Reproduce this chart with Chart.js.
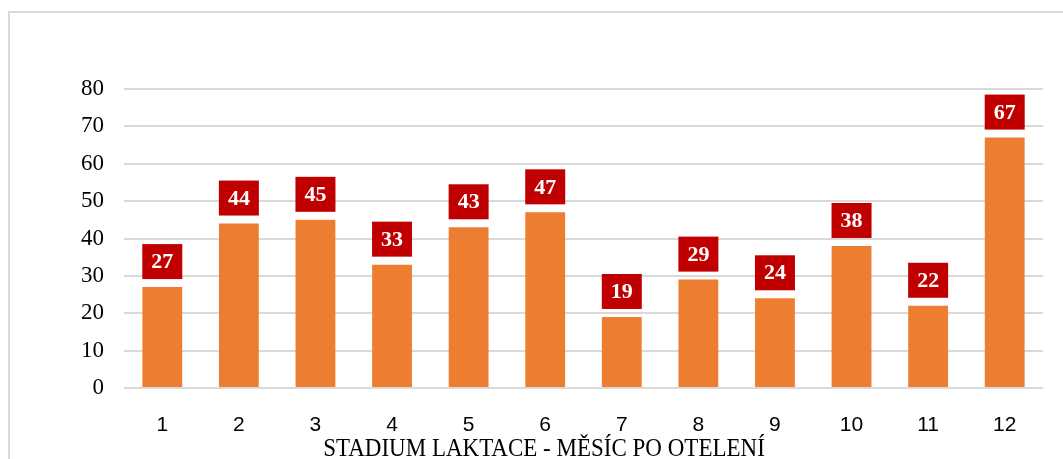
<!DOCTYPE html>
<html>
<head>
<meta charset="utf-8">
<script src="https://cdn.jsdelivr.net/npm/chart.js@4"></script>
<style>
  html, body { margin: 0; padding: 0; background: #fff; overflow: hidden; }
  #frame { position: absolute; left: 8px; top: 11px; width: 1100px; height: 500px; border: 2px solid #d9d9d9; }
  #wrap { position: absolute; left: 0; top: 0; width: 1063px; height: 459px; }
</style>
</head>
<body>
<div id="frame"></div>
<div id="wrap"><canvas id="chart"></canvas></div>
<script>
// Data
var months = ["1","2","3","4","5","6","7","8","9","10","11","12"];
var counts = [27, 44, 45, 33, 43, 47, 19, 29, 24, 38, 22, 67];
var yTicks = [0, 10, 20, 30, 40, 50, 60, 70, 80];
var xTitle = 'STADIUM LAKTACE - MĚSÍC PO OTELENÍ';

// Labels in red boxes above the bars
var boxLabels = {
  id: 'boxLabels',
  afterDatasetsDraw(chart) {
    var ctx = chart.ctx;
    var meta = chart.getDatasetMeta(0);
    ctx.save();
    ctx.font = 'bold 22px "Liberation Serif", serif';
    ctx.textAlign = 'center';
    ctx.textBaseline = 'middle';
    meta.data.forEach(function (bar, i) {
      var w = 40, h = 35;
      var bottom = bar.y - 8;
      ctx.fillStyle = '#C00000';
      ctx.fillRect(bar.x - w / 2, bottom - h, w, h);
      ctx.fillStyle = '#ffffff';
      ctx.fillText(String(counts[i]), bar.x, bottom - h / 2 + 1);
    });
    ctx.restore();
  }
};

// Axis title (sits a bit left of the plot centre, as in the original)
var axisTitle = {
  id: 'axisTitle',
  afterDraw(chart) {
    var ctx = chart.ctx;
    ctx.save();
    ctx.translate(544, 456);
    ctx.scale(1, 1.12);
    ctx.font = '23px "Liberation Serif", serif';
    ctx.fillStyle = '#000';
    ctx.textAlign = 'center';
    ctx.textBaseline = 'alphabetic';
    ctx.fillText(xTitle, 0, 0);
    ctx.restore();
  }
};

new Chart(document.getElementById('chart'), {
  type: 'bar',
  data: {
    labels: months,
    datasets: [{
      data: counts,
      backgroundColor: '#ED7D31',
      barPercentage: 0.52,
      categoryPercentage: 1.0
    }]
  },
  options: {
    responsive: true,
    maintainAspectRatio: false,
    animation: false,
    layout: { padding: { top: 89, right: 20, left: 0, bottom: 0 } },
    plugins: { legend: { display: false }, tooltip: { enabled: false } },
    scales: {
      x: {
        grid: { display: false },
        border: { display: false },
        ticks: { color: '#000', font: { family: '"Liberation Sans Narrow", "Liberation Sans", sans-serif', size: 21 }, padding: 17 },
        afterFit: function (scale) { scale.height = 71; }
      },
      y: {
        min: 0,
        max: 80,
        afterBuildTicks: function (scale) { scale.ticks = yTicks.map(function (v) { return { value: v }; }); },
        grid: { color: '#d9d9d9', lineWidth: 2, drawTicks: false },
        border: { display: false },
        ticks: { color: '#000', font: { family: '"Liberation Serif", serif', size: 23 }, padding: 20 },
        afterFit: function (scale) { scale.width = 124; }
      }
    }
  },
  plugins: [boxLabels, axisTitle]
});
</script>
</body>
</html>
